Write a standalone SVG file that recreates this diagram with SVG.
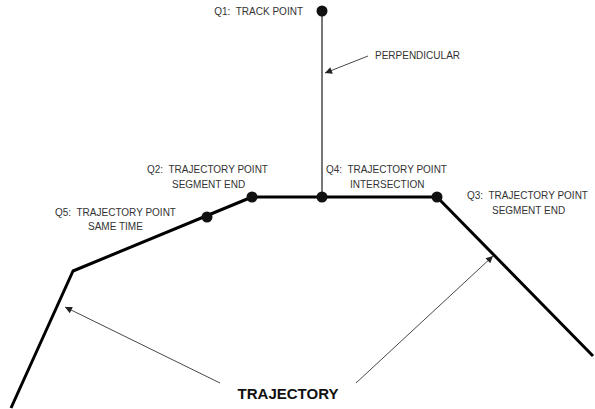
<svg xmlns="http://www.w3.org/2000/svg" width="595" height="409" viewBox="0 0 595 409">
<style>
.lbl{font-family:"Liberation Sans",Arial,sans-serif;font-size:10px;fill:#333}
.big{font-family:"Liberation Sans",Arial,sans-serif;font-size:15px;font-weight:bold;fill:#111}
.traj{fill:none;stroke:#000;stroke-width:3;stroke-linejoin:round}
.ptr{stroke:#333;stroke-width:0.9;fill:none}
.dot{fill:#111}
</style>
<defs>
<marker id="ah" viewBox="0 0 10 10" refX="10" refY="5" markerWidth="10" markerHeight="7" markerUnits="userSpaceOnUse" orient="auto"><path d="M0,0 L10,5 L0,10 z" fill="#222"/></marker>
</defs>
<rect width="595" height="409" fill="#fff"/>
<g id="connectors">
<polyline class="traj" points="11,408 73,271 252,197 437,197 593,356"/>
<line x1="322" y1="11" x2="322" y2="197" stroke="#555" stroke-width="1.6"/>
<line class="ptr" x1="368" y1="56" x2="325" y2="73" marker-end="url(#ah)"/>
<line class="ptr" x1="220" y1="383" x2="65" y2="307" marker-end="url(#ah)"/>
<line class="ptr" x1="356" y1="383" x2="493" y2="256" marker-end="url(#ah)"/>
</g>
<g id="q1"><circle class="dot" cx="322" cy="11" r="5.5"/><text class="lbl" x="303" y="15" text-anchor="end" xml:space="preserve">Q1:  TRACK POINT</text></g>
<g id="perp"><text class="lbl" x="375" y="59">PERPENDICULAR</text></g>
<g id="q2"><circle class="dot" cx="252" cy="197" r="5.5"/><text class="lbl" x="147" y="173" xml:space="preserve">Q2:  TRAJECTORY POINT</text><text class="lbl" x="172" y="188">SEGMENT END</text></g>
<g id="q4"><circle class="dot" cx="322" cy="197" r="5.5"/><text class="lbl" x="326" y="173" xml:space="preserve">Q4:  TRAJECTORY POINT</text><text class="lbl" x="350" y="188">INTERSECTION</text></g>
<g id="q3"><circle class="dot" cx="437" cy="197" r="5.5"/><text class="lbl" x="467" y="199" xml:space="preserve">Q3:  TRAJECTORY POINT</text><text class="lbl" x="492" y="214">SEGMENT END</text></g>
<g id="q5"><circle class="dot" cx="207" cy="217" r="5.5"/><text class="lbl" x="55" y="216" xml:space="preserve">Q5:  TRAJECTORY POINT</text><text class="lbl" x="88" y="230">SAME TIME</text></g>
<g id="trajectory"><text class="big" x="288" y="399" text-anchor="middle">TRAJECTORY</text></g>
</svg>
